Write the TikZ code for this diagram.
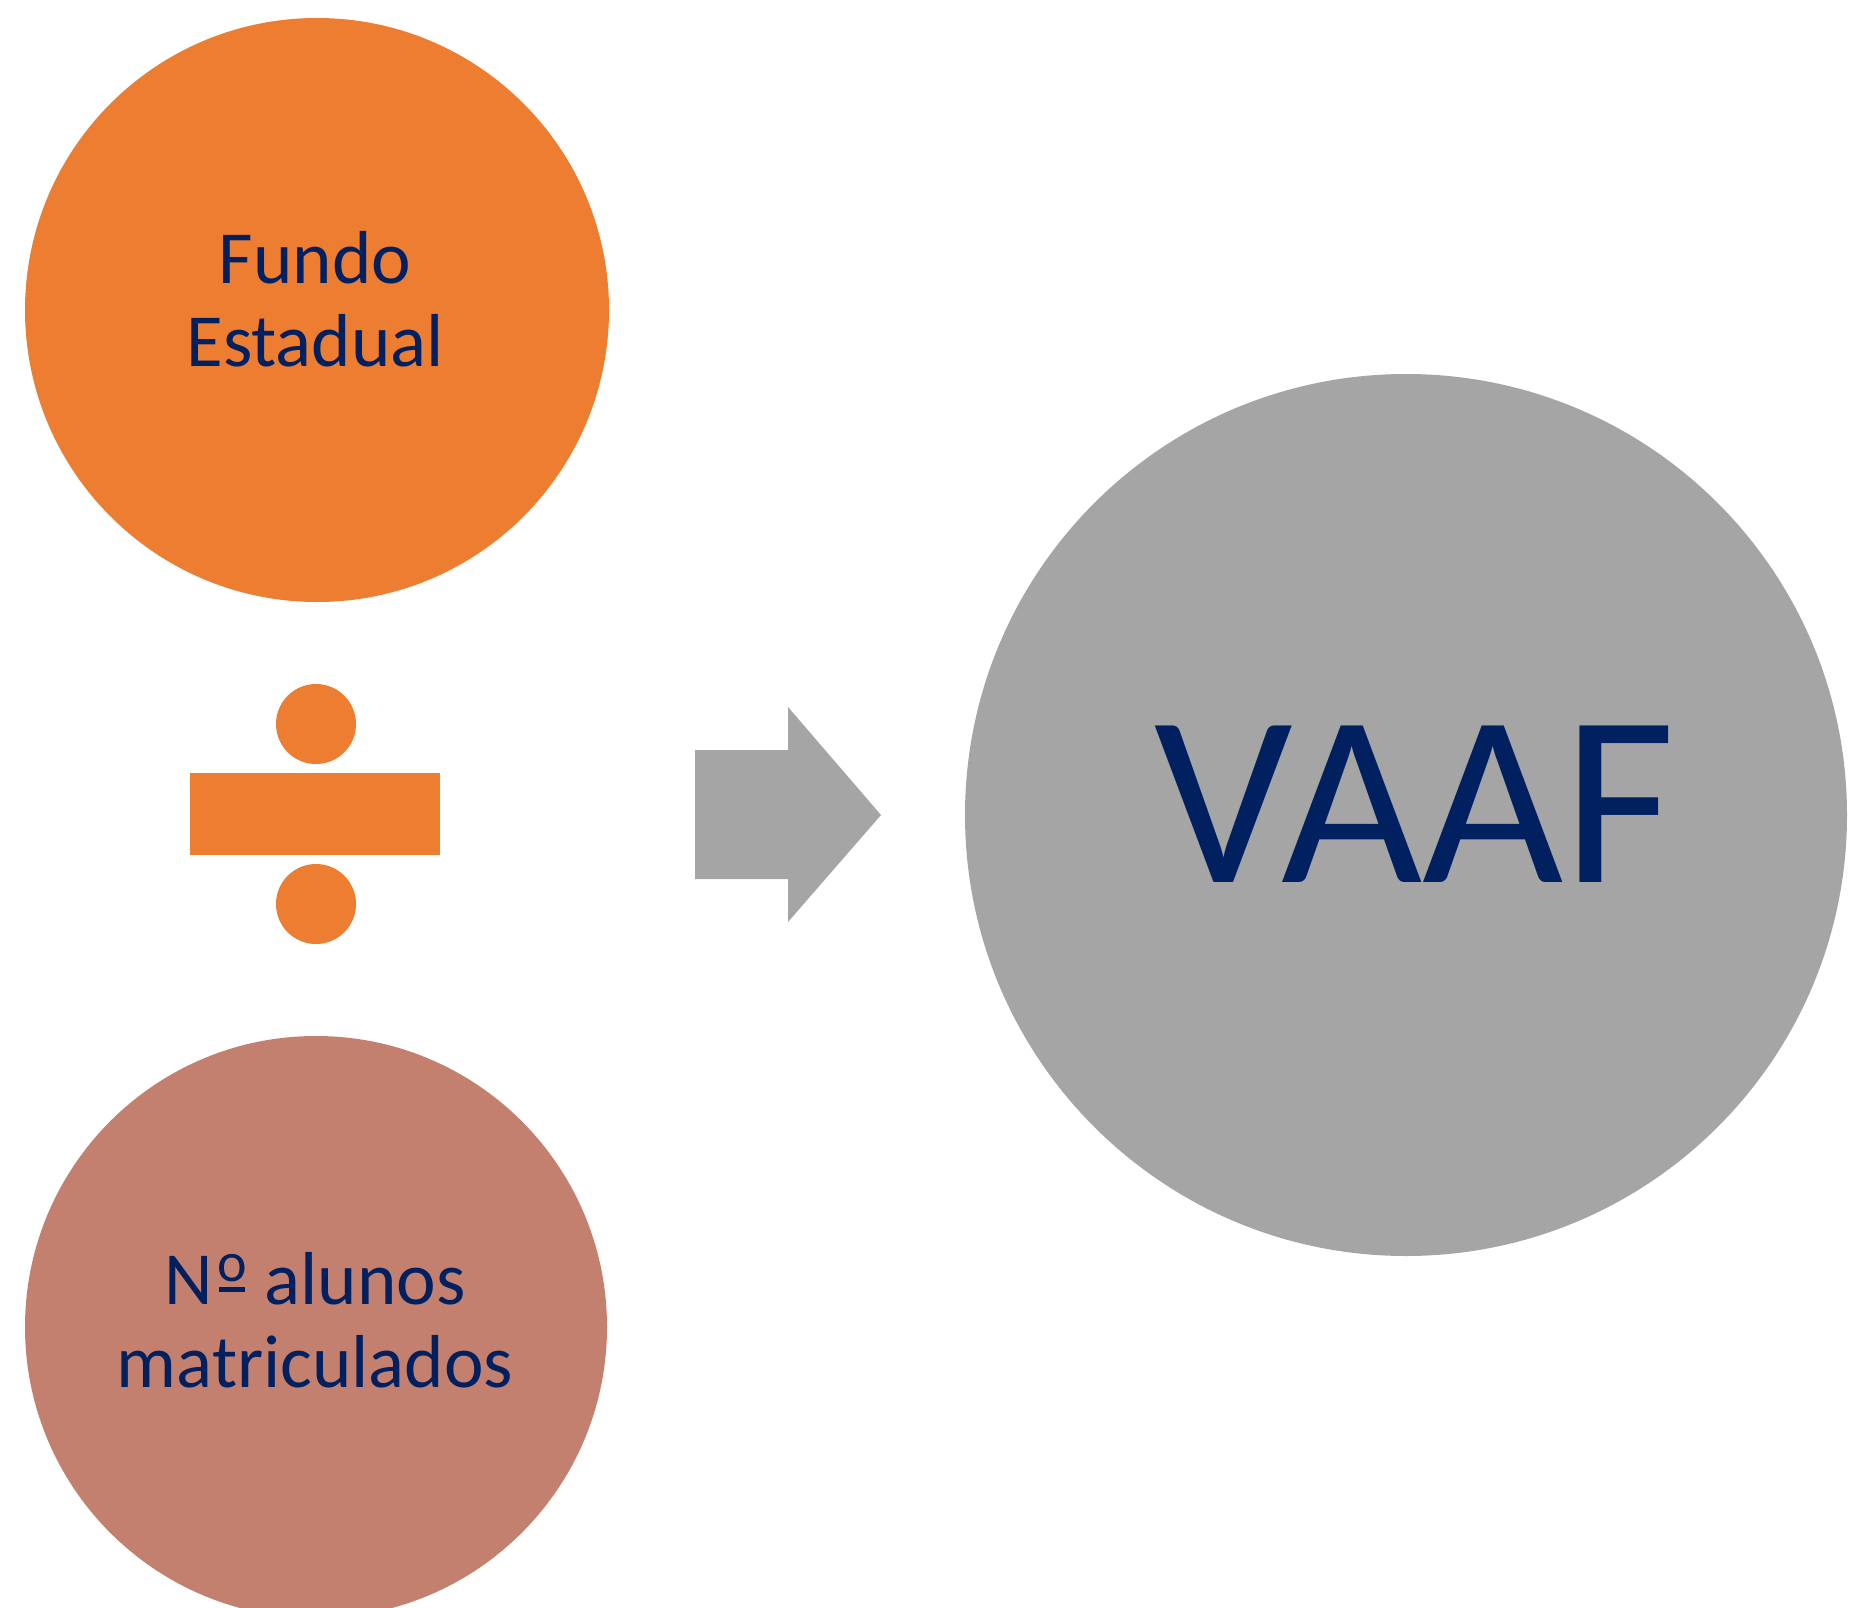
\documentclass[tikz,border=0pt]{standalone}
\usepackage{fontspec}
\setmainfont{Carlito}
\definecolor{orangeA}{HTML}{ED7D31}
\definecolor{roseB}{HTML}{C4806F}
\definecolor{grayC}{HTML}{A5A5A5}
\definecolor{navyT}{HTML}{002060}
\newcommand\myordm{\hspace{6pt}\rlap{\rule[12pt]{26pt}{5pt}}\raisebox{22.5pt}{\makebox[26pt]{\fontsize{56}{56}\selectfont o}}\hspace{3pt}}
\tikzset{
  bubble/.style={circle, inner sep=0pt, draw=none},
  label75/.style={text=navyT, align=center, inner sep=0pt, font=\fontsize{75}{83}\selectfont},
  labelbig/.style={text=navyT, inner sep=0pt, font=\fontsize{244}{280}\selectfont},
}
\begin{document}
\begin{tikzpicture}[x=1pt, y=-1pt]
\useasboundingbox (0,0) rectangle (1849,1608);
\clip (0,0) rectangle (1849,1608);
% circles
\node[bubble, fill=orangeA, minimum size=584pt] (fundo) at (317,310) {};
\node[bubble, fill=roseB, minimum size=582pt] (alunos) at (316,1327) {};
\node[bubble, fill=grayC, minimum size=882pt] (vaaf) at (1406,815) {};
% divide sign
\node[bubble, fill=orangeA, minimum size=80pt] (dotA) at (316,724) {};
\node[inner sep=0pt, fill=orangeA, minimum width=250pt, minimum height=82pt] (bar) at (315,814) {};
\node[bubble, fill=orangeA, minimum size=80pt] (dotB) at (316,904) {};
% arrow
\fill[grayC] (695,750) -- (788,750) -- (788,707) -- (881,815) -- (788,922) -- (788,879) -- (695,879) -- cycle;
% texts (anchor = baseline of the last line)
\node[label75, anchor=base] (tf) at (315,366) {Fundo\\Estadual};
\node[label75, anchor=base] (ta) at (315,1387) {N\myordm{} alunos\\matriculados};
\node[labelbig, anchor=base] (tv) at (1415,882) {VAAF};
\end{tikzpicture}
\end{document}
